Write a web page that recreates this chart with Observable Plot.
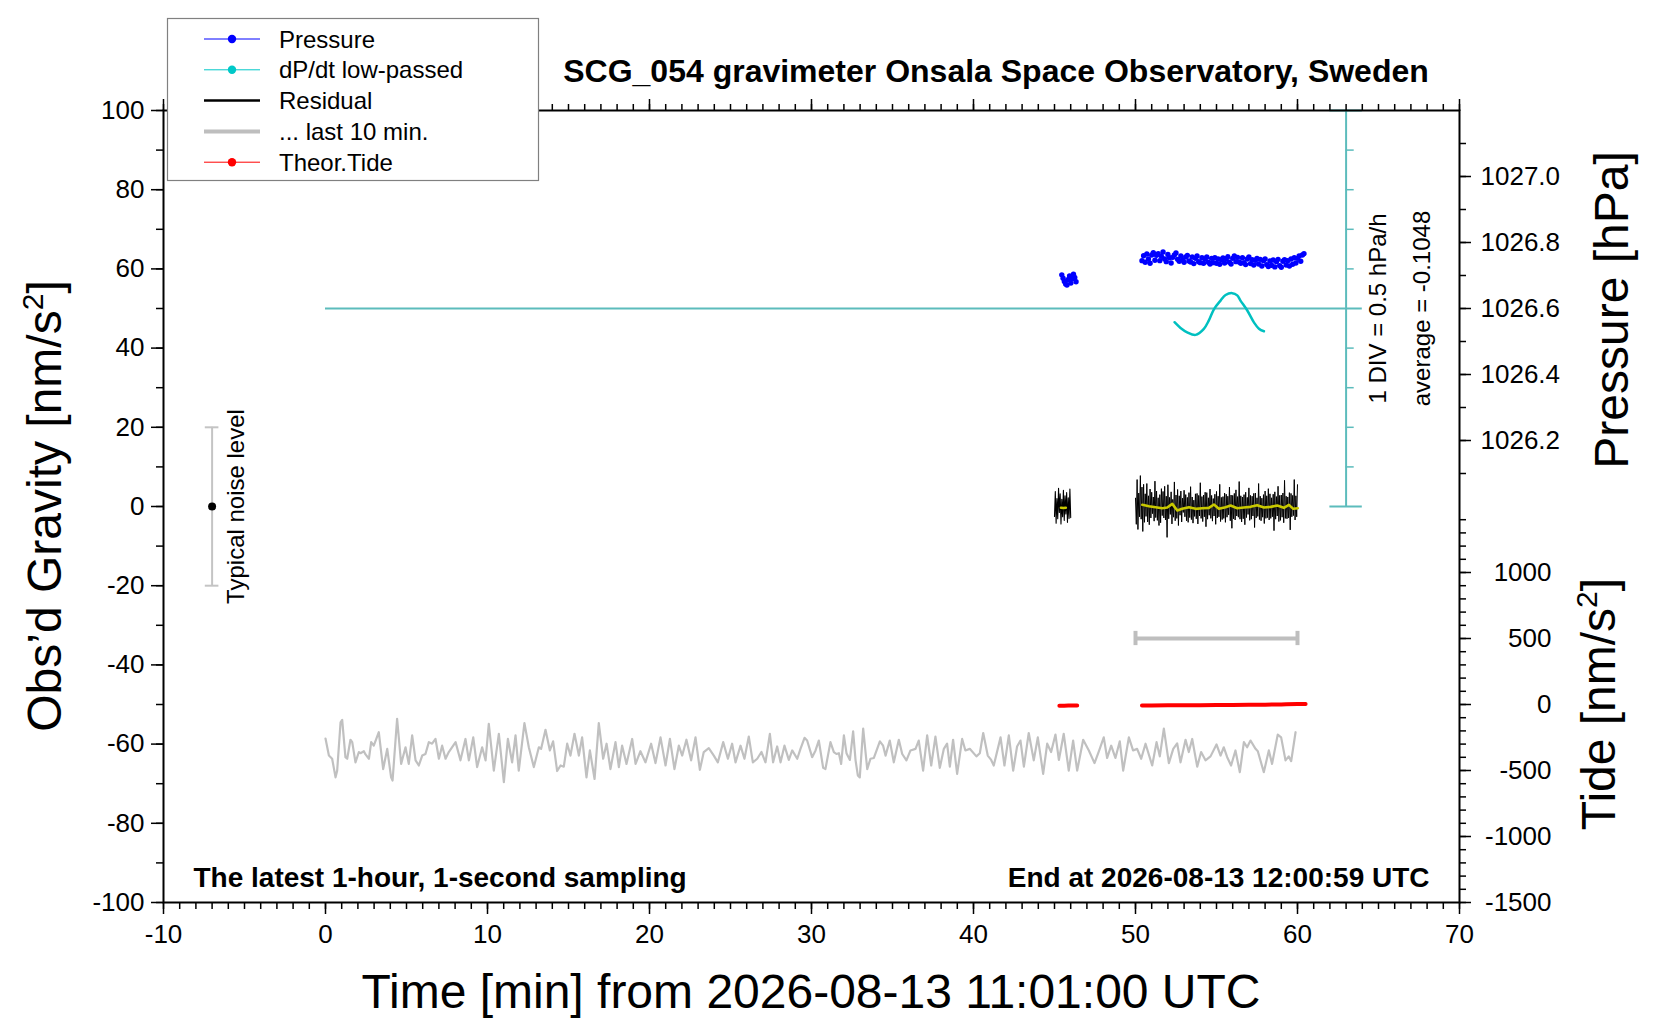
<!DOCTYPE html>
<html>
<head>
<meta charset="utf-8">
<script src="https://cdn.jsdelivr.net/npm/d3@7"></script>
<script src="https://cdn.jsdelivr.net/npm/@observablehq/plot@0.6"></script>
<style>
  html, body { margin: 0; padding: 0; background: #fff; }
  #wrap { position: relative; width: 1660px; height: 1020px; overflow: hidden; font-family: "Liberation Sans", Arial, Helvetica, sans-serif; }
  #wrap > svg { position: absolute; left: 0; top: 0; }
  #overlay { pointer-events: none; }
</style>
</head>
<body>
<div id="wrap"></div>
<script>
// ---------------- Tick labels ----------------
const xTicks = [-10, 0, 10, 20, 30, 40, 50, 60, 70];
const yTicks = [-100, -80, -60, -40, -20, 0, 20, 40, 60, 80, 100];
const pressureTicks = [1026.2, 1026.4, 1026.6, 1026.8, 1027.0];
const pressureMinorTicks = [1026.1, 1026.2, 1026.3, 1026.4, 1026.5, 1026.6, 1026.7, 1026.8, 1026.9, 1027.0, 1027.1];
const tideTicks = [-1500, -1000, -500, 0, 500, 1000];
const tideMinorTicks = [-1500,-1400,-1300,-1200,-1100,-1000,-900,-800,-700,-600,-500,-400,-300,-200,-100,0,100,200,300,400,500,600,700,800,900,1000,1100,1200,1300,1400];
const dpdtDivTicks = [0, 10, 20, 30, 40, 50, 60, 70, 80, 90, 100];

// ---------------- Axis mappings onto the gravity scale ----------------
const pressureAt50 = 1026.6;        // hPa shown at gravity 50
const hPaPerUnit = 0.012;           // 1 nm/s^2 grid unit = 0.012 hPa
const tideAtMinus50 = 0;            // tide 0 at gravity -50
const tidePerUnit = 30;             // 1 grid unit = 30 nm/s^2 tide
const dpdtCenter = 50;              // dP/dt zero line
const dpdtPerDiv = 0.5;             // 1 DIV (10 units) = 0.5 hPa/h
const pToY = p => 50 + (p - pressureAt50) / hPaPerUnit;
const tideToY = t => -50 + (t - tideAtMinus50) / tidePerUnit;
const dpdtToY = v => dpdtCenter + v / dpdtPerDiv * 10;

// ---------------- Pressure (hPa) ----------------
const pressT1 = [45.45,45.53,45.61,45.69,45.77,45.85,45.93,46.01,46.09,46.17,46.25,46.33];
const pressV1 = [1026.702,1026.692,1026.682,1026.674,1026.671,1026.688,1026.699,1026.677,1026.690,1026.704,1026.694,1026.681];
const pressT2 = [50.4,50.5,50.6,50.7,50.8,50.9,51.0,51.1,51.2,51.3,
                 51.4,51.5,51.6,51.7,51.8,51.9,52.0,52.1,52.2,52.3,
                 52.4,52.5,52.6,52.7,52.8,52.9,53.0,53.1,53.2,53.3,
                 53.4,53.5,53.6,53.7,53.8,53.9,54.0,54.1,54.2,54.3,
                 54.4,54.5,54.6,54.7,54.8,54.9,55.0,55.1,55.2,55.3,
                 55.4,55.5,55.6,55.7,55.8,55.9,56.0,56.1,56.2,56.3,
                 56.4,56.5,56.6,56.7,56.8,56.9,57.0,57.1,57.2,57.3,
                 57.4,57.5,57.6,57.7,57.8,57.9,58.0,58.1,58.2,58.3,
                 58.4,58.5,58.6,58.7,58.8,58.9,59.0,59.1,59.2,59.3,
                 59.4,59.5,59.6,59.7,59.8,59.9,60.0,60.1,60.2,60.3,60.4];
const pressV2 = [1026.745,1026.760,1026.740,1026.765,1026.750,1026.737,1026.762,1026.769,1026.746,1026.761,
                 1026.766,1026.745,1026.758,1026.771,1026.750,1026.742,1026.764,1026.754,1026.738,1026.755,
                 1026.762,1026.768,1026.749,1026.743,1026.759,1026.747,1026.740,1026.756,1026.761,1026.744,
                 1026.741,1026.756,1026.736,1026.752,1026.759,1026.742,1026.739,1026.754,1026.737,1026.750,
                 1026.756,1026.740,1026.735,1026.752,1026.739,1026.754,1026.737,1026.750,1026.734,1026.748,
                 1026.753,1026.738,1026.751,1026.757,1026.740,1026.735,1026.752,1026.759,1026.742,1026.755,
                 1026.741,1026.737,1026.754,1026.739,1026.733,1026.750,1026.756,1026.736,1026.748,1026.732,
                 1026.746,1026.752,1026.735,1026.749,1026.729,1026.745,1026.750,1026.733,1026.727,1026.744,
                 1026.731,1026.747,1026.726,1026.742,1026.749,1026.730,1026.725,1026.743,1026.748,1026.732,
                 1026.745,1026.729,1026.750,1026.734,1026.754,1026.738,1026.752,1026.759,1026.743,1026.762,1026.766];

// ---------------- dP/dt low-passed (hPa/h, relative to the zero line) ----------------
const dpdtT = [52.41,52.78,53.19,53.71,54.22,54.53,54.84,55.25,55.56,55.97,56.28,56.48,56.90,57.31,57.62,57.93];
const dpdtV = [-0.173,-0.245,-0.300,-0.333,-0.257,-0.150,-0.010,0.100,0.170,0.194,0.165,0.100,-0.025,-0.175,-0.255,-0.287];

// ---------------- Residual (nm/s^2) ----------------
const residT1 = [45.00,45.05,45.10,45.15,45.20,45.25,45.30,45.35,45.40,45.45,45.50,45.55,45.60,45.65,45.70,45.75,45.80,45.85,45.90,45.95,46.00];
const residV1 = [-2.5,3.8,-4.2,2.0,-3.1,4.6,-1.5,3.2,-4.4,1.8,-2.6,4.1,-3.5,2.7,-1.9,3.5,-4.0,2.2,-3.0,4.4,-2.8];
const residT2 = [50.00,50.05,50.10,50.15,50.20,50.25,50.30,50.35,50.40,50.45,
                 50.50,50.55,50.60,50.65,50.70,50.75,50.80,50.85,50.90,50.95,
                 51.00,51.05,51.10,51.15,51.20,51.25,51.30,51.35,51.40,51.45,
                 51.50,51.55,51.60,51.65,51.70,51.75,51.80,51.85,51.90,51.95,
                 52.00,52.05,52.10,52.15,52.20,52.25,52.30,52.35,52.40,52.45,
                 52.50,52.55,52.60,52.65,52.70,52.75,52.80,52.85,52.90,52.95,
                 53.00,53.05,53.10,53.15,53.20,53.25,53.30,53.35,53.40,53.45,
                 53.50,53.55,53.60,53.65,53.70,53.75,53.80,53.85,53.90,53.95,
                 54.00,54.05,54.10,54.15,54.20,54.25,54.30,54.35,54.40,54.45,
                 54.50,54.55,54.60,54.65,54.70,54.75,54.80,54.85,54.90,54.95,
                 55.00,55.05,55.10,55.15,55.20,55.25,55.30,55.35,55.40,55.45,
                 55.50,55.55,55.60,55.65,55.70,55.75,55.80,55.85,55.90,55.95,
                 56.00,56.05,56.10,56.15,56.20,56.25,56.30,56.35,56.40,56.45,
                 56.50,56.55,56.60,56.65,56.70,56.75,56.80,56.85,56.90,56.95,
                 57.00,57.05,57.10,57.15,57.20,57.25,57.30,57.35,57.40,57.45,
                 57.50,57.55,57.60,57.65,57.70,57.75,57.80,57.85,57.90,57.95,
                 58.00,58.05,58.10,58.15,58.20,58.25,58.30,58.35,58.40,58.45,
                 58.50,58.55,58.60,58.65,58.70,58.75,58.80,58.85,58.90,58.95,
                 59.00,59.05,59.10,59.15,59.20,59.25,59.30,59.35,59.40,59.45,
                 59.50,59.55,59.60,59.65,59.70,59.75,59.80,59.85,59.90,59.95,
                 60.00];
const residV2 = [2.1,-4.5,6.8,-5.8,3.4,-2.6,7.8,-3.2,4.9,-6.3,
                 5.6,-4.0,3.2,-2.5,5.8,-3.9,2.7,-4.6,4.4,-2.9,
                 3.6,-1.8,2.4,-3.7,6.4,-2.8,3.9,-3.5,2.2,-4.8,
                 3.0,-4.1,4.5,-2.3,3.8,-2.9,5.1,-3.4,2.6,-7.8,
                 5.5,-3.1,2.3,-2.0,3.7,-4.4,1.8,-2.7,6.2,-3.6,
                 2.9,-3.0,4.3,-4.8,2.7,-2.2,3.9,-3.9,2.1,-1.5,
                 4.1,-2.6,3.0,-3.6,2.3,-4.0,3.5,-2.8,5.0,-3.3,
                 2.4,-4.2,1.6,-2.5,3.2,-3.1,3.3,-4.4,2.8,-2.4,
                 6.0,-3.0,2.5,-3.8,2.9,-2.6,3.6,-5.1,3.5,-3.2,
                 2.2,-2.2,4.4,-3.0,2.8,-3.7,2.0,-2.4,3.1,-4.5,
                 3.8,-2.9,2.6,-2.6,5.6,-3.8,2.3,-3.3,2.5,-3.0,
                 3.4,-4.0,3.1,-2.7,2.6,-2.1,4.9,-3.6,2.9,-5.5,
                 2.8,-3.1,3.3,-3.4,4.2,-2.4,2.5,-2.7,6.3,-3.2,
                 2.7,-3.9,2.4,-3.1,3.0,-4.6,3.6,-2.8,2.3,-2.0,
                 4.7,-3.5,2.8,-3.2,2.6,-2.4,3.3,-5.3,3.4,-2.9,
                 2.2,-2.5,5.8,-3.3,2.6,-3.6,2.1,-2.7,3.0,-4.3,
                 3.9,-3.0,2.7,-2.8,4.5,-3.4,3.2,-3.0,2.2,-2.6,
                 3.1,-6.1,3.7,-3.2,2.5,-2.4,5.1,-3.8,2.8,-3.5,
                 2.9,-2.7,3.4,-4.1,6.6,-3.0,2.6,-3.1,2.4,-2.9,
                 3.5,-5.9,3.3,-2.6,2.8,-2.3,6.8,-3.4,2.7,-2.6,
                 5.5];

// ---------------- Smoothed residual (yellow) ----------------
const smoothT1 = [45.40,45.55,45.70];
const smoothV1 = [-0.3,-0.4,-0.3];
const smoothT2 = [50.42,50.83,51.24,51.65,51.96,52.27,52.58,52.88,53.30,53.71,54.12,54.53,54.84,55.15,55.56,55.87,56.28,56.69,57.10,57.51,57.93,58.34,58.75,59.16,59.47,59.74,60.02];
const smoothV2 = [0.42,0.08,-0.17,-0.43,-0.26,0.67,-1.0,-0.59,-0.17,-0.59,-0.43,-0.34,0.5,-0.59,-0.17,0.25,-0.43,-0.26,-0.09,0.34,-0.26,-0.09,0.25,-0.34,0.42,-0.59,-0.43];

// ---------------- Gray trace ----------------
const grayT = [0.00,0.21,0.41,0.62,0.72,0.93,1.03,1.23,1.34,1.54,
               1.65,1.85,2.06,2.16,2.37,2.47,2.68,2.82,2.98,3.29,
               3.56,3.81,4.05,4.14,4.42,4.67,4.94,5.14,5.35,5.56,
               5.76,5.97,6.17,6.38,6.58,6.79,7.00,7.20,7.41,7.61,
               8.03,8.33,8.64,8.85,9.12,9.36,9.67,9.88,10.08,10.39,
               10.70,11.01,11.26,11.52,11.73,11.93,12.28,12.55,12.86,13.17,
               13.31,13.58,13.85,14.05,14.30,14.51,14.71,14.92,15.12,15.37,
               15.64,15.84,16.11,16.32,16.61,16.87,17.14,17.35,17.59,17.90,
               18.11,18.31,18.58,18.93,19.14,19.44,19.75,20.10,20.37,20.68,
               20.99,21.26,21.54,21.81,22.02,22.28,22.57,22.84,23.11,23.35,
               23.66,23.97,24.22,24.55,24.84,25.10,25.31,25.62,25.86,26.13,
               26.38,26.65,26.91,27.16,27.43,27.63,27.88,28.09,28.33,28.60,
               28.81,29.12,29.32,29.57,29.73,30.04,30.25,30.45,30.72,30.86,
               31.17,31.38,31.54,31.69,31.83,32.00,32.16,32.37,32.57,32.72,
               32.86,32.98,33.19,33.44,33.64,33.85,34.22,34.42,34.57,34.83,
               35.08,35.39,35.60,35.86,36.11,36.42,36.62,36.89,37.14,37.39,
               37.65,37.92,38.17,38.37,38.54,38.74,38.99,39.30,39.50,39.77,
               40.18,40.39,40.60,40.88,41.09,41.25,41.67,41.91,42.18,42.45,
               42.69,42.90,43.11,43.41,43.72,43.97,44.30,44.55,44.79,45.06,
               45.27,45.57,45.88,46.15,46.40,46.77,47.12,47.47,47.76,48.04,
               48.25,48.50,48.76,49.03,49.24,49.59,49.85,50.10,50.35,50.62,
               51.03,51.30,51.50,51.75,52.06,52.33,52.57,52.78,53.09,53.29,
               53.50,53.81,54.05,54.32,54.63,55.00,55.25,55.45,55.66,55.90,
               56.17,56.44,56.69,56.89,57.10,57.41,57.55,57.92,58.23,58.43,
               58.78,58.99,59.26,59.46,59.61,59.88];
const grayV = [-58.6,-62.9,-63.7,-68.4,-66.7,-54.5,-53.9,-63.3,-63.7,-58.9,
               -59.5,-64.6,-62.0,-62.3,-61.8,-62.6,-63.7,-59.5,-60.4,-57.0,
               -66.3,-61.2,-68.4,-69.2,-53.6,-65.0,-60.8,-65.0,-57.8,-64.1,
               -65.4,-62.9,-62.5,-59.5,-59.9,-58.7,-63.7,-60.4,-63.7,-62.0,
               -59.5,-64.1,-58.7,-64.1,-58.3,-65.8,-60.8,-64.1,-54.9,-66.7,
               -57.4,-69.6,-58.7,-64.6,-57.8,-66.7,-54.7,-60.8,-65.8,-60.8,
               -61.2,-56.4,-61.6,-59.3,-66.8,-65.4,-65.7,-59.9,-62.9,-57.4,
               -62.9,-58.3,-68.4,-61.6,-68.8,-54.7,-63.7,-59.9,-66.3,-59.5,
               -65.8,-60.4,-65.0,-58.7,-65.0,-61.8,-64.6,-59.9,-64.8,-58.3,
               -65.4,-58.7,-66.3,-60.4,-62.9,-58.9,-64.1,-58.3,-66.5,-62.0,
               -61.0,-62.9,-64.6,-59.5,-63.7,-59.9,-64.6,-60.4,-63.7,-58.1,
               -64.6,-63.7,-62.0,-64.6,-57.4,-64.6,-60.6,-64.6,-60.4,-64.0,
               -61.6,-63.7,-61.2,-58.4,-59.1,-63.3,-61.6,-59.1,-66.0,-66.3,
               -59.5,-62.0,-62.5,-62.3,-65.0,-57.8,-62.3,-64.0,-56.8,-64.1,
               -67.9,-68.4,-56.1,-66.3,-63.7,-63.5,-59.3,-60.4,-62.9,-59.1,
               -64.6,-58.9,-62.5,-64.1,-61.6,-61.2,-59.1,-66.7,-57.8,-65.4,
               -58.1,-66.0,-61.2,-59.9,-65.7,-58.9,-67.5,-58.7,-61.6,-61.2,
               -63.1,-62.3,-57.2,-62.9,-64.0,-65.4,-58.3,-65.4,-57.8,-66.7,
               -60.6,-59.1,-65.7,-57.2,-64.1,-58.3,-67.5,-59.9,-62.0,-57.6,
               -64.0,-57.4,-66.7,-59.1,-66.7,-58.9,-61.6,-64.8,-61.6,-58.3,
               -63.5,-60.4,-63.5,-59.3,-66.7,-58.3,-61.6,-61.2,-63.7,-59.9,
               -65.4,-59.5,-63.1,-56.1,-64.8,-61.2,-59.8,-64.6,-58.9,-62.0,
               -58.7,-65.7,-62.0,-64.1,-63.1,-60.1,-62.9,-60.8,-63.3,-65.4,
               -61.6,-67.1,-59.5,-60.8,-59.1,-61.2,-61.8,-67.1,-61.6,-65.0,
               -57.6,-58.3,-64.1,-63.1,-64.3,-57.0];

// ---------------- Theoretical tide (nm/s^2) ----------------
const tideT1 = [45.30,45.60,45.85,46.10,46.40];
const tideV1 = [-9,-9,-8.5,-8.5,-8];
const tideT2 = [50.40,51.00,52.00,53.00,54.00,55.00,56.00,57.00,58.00,59.00,59.30,60.00,60.50];
const tideV2 = [-8,-7.5,-6.5,-6,-5,-4,-3,-2,-1,0,2,3,4];

// ---------------- Markers ----------------
const lastTenMin = [50, 60];          // "... last 10 min." bar
const lastTenLevel = 500;             // on the tide scale
const noiseX = -7;                    // typical noise level bar
const noiseHalf = 20;                 // +/- nm/s^2
const dpdtScaleX = 63;                // cyan scale bar position (min)
const dpdtLineX = [0, 64];            // cyan zero line extent (min)

const zip = (t, v) => t.map((x, i) => ({x, y: v[i]}));
const tidePts1 = zip(tideT1, tideV1.map(tideToY));
const tidePts2 = zip(tideT2, tideV2.map(tideToY));
const lastY = tideToY(lastTenLevel);

const blank = () => "";
const plain = d => String(d);
const font = "Liberation Sans, Arial, Helvetica, sans-serif";

const plot = Plot.plot({
  width: 1660, height: 1020,
  marginLeft: 163, marginRight: 201, marginTop: 110, marginBottom: 118,
  x: {domain: [-10, 70], axis: null},
  y: {domain: [-100, 100], axis: null},
  style: {fontFamily: font, background: "white", color: "black", overflow: "visible"},
  marks: [
    // gray trace
    Plot.line(zip(grayT, grayV), {x: "x", y: "y", stroke: "#c0c0c0", strokeWidth: 2.2}),
    // cyan zero line and DIV scale
    Plot.ruleY([{y: dpdtCenter, x1: dpdtLineX[0], x2: dpdtLineX[1]}], {y: "y", x1: "x1", x2: "x2", stroke: "#5cbcbc", strokeWidth: 1.8}),
    Plot.ruleX([{x: dpdtScaleX, y1: dpdtDivTicks[0], y2: dpdtDivTicks[dpdtDivTicks.length - 1]}], {x: "x", y1: "y1", y2: "y2", stroke: "#5cbcbc", strokeWidth: 2}),
    Plot.ruleY(dpdtDivTicks.filter(d => d !== 0 && d !== 100 && d !== 50), {y: d => d, x1: dpdtScaleX, x2: dpdtScaleX + 0.5, stroke: "#5cbcbc", strokeWidth: 1.5}),
    Plot.ruleY([0, 100], {y: d => d, x1: dpdtScaleX - 1, x2: dpdtScaleX + 1, stroke: "#5cbcbc", strokeWidth: 2}),
    // dP/dt curve
    Plot.line(zip(dpdtT, dpdtV.map(dpdtToY)), {x: "x", y: "y", stroke: "#00c0c0", strokeWidth: 2.5, curve: "catmull-rom"}),
    // pressure
    Plot.dot(zip(pressT1, pressV1.map(pToY)), {x: "x", y: "y", r: 2.7, fill: "#0000ff"}),
    Plot.dot(zip(pressT2, pressV2.map(pToY)), {x: "x", y: "y", r: 2.7, fill: "#0000ff"}),
    // residual
    Plot.line(zip(residT1, residV1), {x: "x", y: "y", stroke: "#000", strokeWidth: 1.1}),
    Plot.line(zip(residT2, residV2), {x: "x", y: "y", stroke: "#000", strokeWidth: 1}),
    Plot.line(zip(smoothT1, smoothV1), {x: "x", y: "y", stroke: "#c8c800", strokeWidth: 2.6}),
    Plot.line(zip(smoothT2, smoothV2), {x: "x", y: "y", stroke: "#c8c800", strokeWidth: 2.6}),
    // last 10 min bar
    Plot.ruleY([lastY], {x1: lastTenMin[0], x2: lastTenMin[1], stroke: "#bebebe", strokeWidth: 4}),
    Plot.ruleX(lastTenMin, {y1: lastY - 1.8, y2: lastY + 1.8, stroke: "#bebebe", strokeWidth: 4}),
    // tide
    Plot.line(tidePts1, {x: "x", y: "y", stroke: "#ff0000", strokeWidth: 4, strokeLinecap: "round"}),
    Plot.line(tidePts2, {x: "x", y: "y", stroke: "#ff0000", strokeWidth: 4, strokeLinecap: "round"}),
    // noise level bar
    Plot.ruleX([noiseX], {y1: -noiseHalf, y2: noiseHalf, stroke: "#c4c4c4", strokeWidth: 2}),
    Plot.ruleY([-noiseHalf, noiseHalf], {y: d => d, x1: noiseX - 0.42, x2: noiseX + 0.42, stroke: "#c4c4c4", strokeWidth: 2}),
    Plot.dot([{x: noiseX, y: 0}], {x: "x", y: "y", r: 4, fill: "#000"}),
    Plot.text(["Typical noise level"], {x: noiseX + 1.5, y: 0, rotate: -90, fontSize: 24, textAnchor: "middle", lineAnchor: "middle", fill: "#000"}),
    // dP/dt annotations
    Plot.text(["1 DIV = " + dpdtPerDiv + " hPa/h"], {x: 65.0, y: dpdtCenter, rotate: -90, fontSize: 24, textAnchor: "middle", lineAnchor: "middle", fill: "#000"}),
    Plot.text(["average = -0.1048"], {x: 67.7, y: dpdtCenter, rotate: -90, fontSize: 24, textAnchor: "middle", lineAnchor: "middle", fill: "#000"}),
    // inner bold texts
    Plot.text(["The latest 1-hour, 1-second sampling"], {x: -8.15, y: -96.2, fontSize: 28, fontWeight: "bold", textAnchor: "start", lineAnchor: "bottom", fill: "#000"}),
    Plot.text(["End at 2026-08-13 12:00:59 UTC"], {x: 68.15, y: -96.2, fontSize: 28, fontWeight: "bold", textAnchor: "end", lineAnchor: "bottom", fill: "#000"}),
    // frame
    Plot.frame({stroke: "#000", strokeWidth: 2}),
    // x axes
    Plot.axisX({anchor: "bottom", ticks: d3.range(-10, 71, 1), tickSize: 7, tickFormat: blank, strokeWidth: 1.5, label: null}),
    Plot.axisX({anchor: "bottom", ticks: xTicks, tickSize: 12, tickPadding: 10, fontSize: 26, strokeWidth: 1.5, label: null, tickFormat: plain}),
    Plot.axisX({anchor: "top", ticks: d3.range(-10, 71, 1), tickSize: 7, tickFormat: blank, strokeWidth: 1.5, label: null}),
    Plot.axisX({anchor: "top", ticks: xTicks, tickSize: 12, tickFormat: blank, strokeWidth: 1.5, label: null}),
    // left y axis
    Plot.axisY({anchor: "left", ticks: d3.range(-100, 101, 10), tickSize: 7, tickFormat: blank, strokeWidth: 1.5, label: null}),
    Plot.axisY({anchor: "left", ticks: yTicks, tickSize: 12, tickPadding: 7, fontSize: 26, strokeWidth: 1.5, label: null, tickFormat: plain}),
    // right pressure axis
    Plot.axisY({anchor: "right", ticks: pressureMinorTicks.map(pToY), tickSize: 6, tickFormat: blank, strokeWidth: 1.5, label: null}),
    Plot.axisY({anchor: "right", ticks: pressureTicks.map(pToY), tickSize: 11, tickPadding: 10, fontSize: 26, strokeWidth: 1.5, label: null,
      tickFormat: (y, i) => pressureTicks[i].toFixed(1)}),
    // right tide axis
    Plot.axisY({anchor: "right", ticks: tideMinorTicks.map(tideToY), tickSize: 6, tickFormat: blank, strokeWidth: 1.5, label: null}),
    Plot.axisY({anchor: "right", ticks: tideTicks.map(tideToY), tickSize: 11, tickFormat: blank, strokeWidth: 1.5, label: null}),
    Plot.text(tideTicks, {x: 70, y: d => tideToY(d), text: d => String(d), dx: 92, textAnchor: "end", lineAnchor: "middle", fontSize: 26, fill: "#000"})
  ]
});
document.getElementById("wrap").appendChild(plot);

// ---------------- Titles, axis labels and legend ----------------
const legendItems = [
  {label: "Pressure", color: "#0000ff", width: 1, dot: true},
  {label: "dP/dt low-passed", color: "#00c8c8", width: 1, dot: true},
  {label: "Residual", color: "#000000", width: 2.5, dot: false},
  {label: "... last 10 min.", color: "#bebebe", width: 4, dot: false},
  {label: "Theor.Tide", color: "#ff0000", width: 1, dot: true}
];
const ns = "http://www.w3.org/2000/svg";
const ov = document.createElementNS(ns, "svg");
ov.setAttribute("id", "overlay");
ov.setAttribute("width", 1660);
ov.setAttribute("height", 1020);
ov.setAttribute("font-family", font);
let html = "";
html += `<text x="996" y="82" text-anchor="middle" font-weight="bold" font-size="32">SCG_054 gravimeter Onsala Space Observatory, Sweden</text>`;
html += `<text x="811" y="1008" text-anchor="middle" font-size="48">Time [min] from 2026-08-13 11:01:00 UTC</text>`;
html += `<text transform="translate(61,506) rotate(-90)" text-anchor="middle" font-size="48">Obs’d Gravity [nm/s<tspan font-size="30" dy="-18">2</tspan><tspan dy="18">]</tspan></text>`;
html += `<text transform="translate(1628,310) rotate(-90)" text-anchor="middle" font-size="48">Pressure [hPa]</text>`;
html += `<text transform="translate(1615,704) rotate(-90)" text-anchor="middle" font-size="48">Tide [nm/s<tspan font-size="30" dy="-18">2</tspan><tspan dy="18">]</tspan></text>`;
// legend
html += `<rect x="167.5" y="18.5" width="371" height="162" fill="#fff" stroke="#808080" stroke-width="1.2"/>`;
legendItems.forEach((d, i) => {
  const cy = 39 + i * 30.8;
  html += `<line x1="204" x2="260" y1="${cy}" y2="${cy}" stroke="${d.color}" stroke-width="${d.width}"/>`;
  if (d.dot) html += `<circle cx="232" cy="${cy}" r="4.2" fill="${d.color}"/>`;
  html += `<text x="279" y="${cy + 8.5}" font-size="24">${d.label}</text>`;
});
ov.innerHTML = html;
document.getElementById("wrap").appendChild(ov);
</script>
</body>
</html>
